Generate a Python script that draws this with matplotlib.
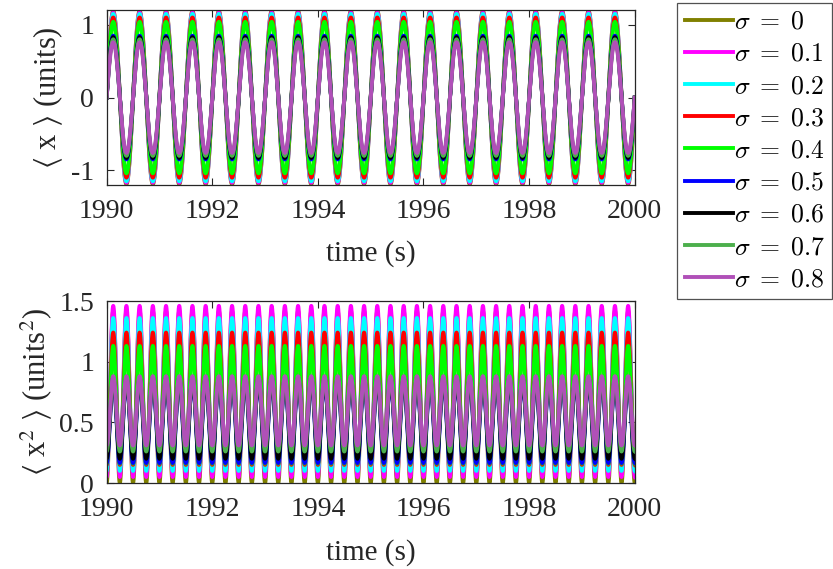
import numpy as np
import matplotlib
matplotlib.use("Agg")
import matplotlib.pyplot as plt
from matplotlib.font_manager import FontProperties

# noise levels and the fitted response of each run
sigmas = [0, 0.1, 0.2, 0.3, 0.4, 0.5, 0.6, 0.7, 0.8]
colors = ['#808000', '#ff00ff', '#00ffff', '#ff0000', '#00ff00',
          '#0000ff', '#000000', '#4caf4c', '#b050b8']
# amplitude of <x>
x_amp = [1.19, 1.17, 1.15, 1.10, 1.04, 0.85, 0.83, 0.80, 0.76]
# min / max of <x^2>
x2_min = [0.0, 0.05, 0.10, 0.15, 0.16, 0.165, 0.20, 0.26, 0.31]
x2_max = [1.42, 1.46, 1.36, 1.24, 1.13, 0.86, 0.87, 0.88, 0.88]
drive_freq = 2.0  # Hz
t_start, t_end = 1990, 2000
xticks = [1990, 1992, 1994, 1996, 1998, 2000]

plt.rcParams['font.family'] = ['Liberation Serif', 'DejaVu Serif']
plt.rcParams['mathtext.fontset'] = 'stix'
plt.rcParams['axes.unicode_minus'] = False
plt.rcParams['font.size'] = 20

t = np.linspace(t_start, t_end, 6001)
phase = np.sin(2 * np.pi * drive_freq * (t - t_start))

fig = plt.figure(figsize=(8.33, 5.69), dpi=100)
ax1 = fig.add_axes([0.128, 0.675, 0.634, 0.307])
ax2 = fig.add_axes([0.128, 0.151, 0.634, 0.320])

lines = []
for s, c, a, lo, hi in zip(sigmas, colors, x_amp, x2_min, x2_max):
    l, = ax1.plot(t, a * phase, color=c, lw=2.8)
    ax2.plot(t, lo + (hi - lo) * phase ** 2, color=c, lw=2.8)
    lines.append(l)

for ax in (ax1, ax2):
    ax.set_xlim(t_start, t_end)
    ax.set_xticks(xticks)
    ax.tick_params(direction='in', top=True, right=True, length=5,
                   width=0.8, colors='#262626', labelcolor='#262626')
    ax.tick_params(axis='x', pad=10)
    ax.tick_params(axis='y', pad=9)
    for sp in ax.spines.values():
        sp.set_color('#262626')
        sp.set_linewidth(0.9)
    ax.set_xlabel('time (s)', color='#262626', fontsize=21, labelpad=12)

ax1.set_ylim(-1.2, 1.2)
ax1.set_yticks([-1, 0, 1])
ax1.set_ylabel(r'$\langle$ x $\rangle$ (units)', color='#262626',
               fontsize=22, labelpad=4)

ax2.set_ylim(0, 1.5)
ax2.set_yticks([0, 0.5, 1, 1.5])
ax2.set_yticklabels(['0', '0.5', '1', '1.5'])
ax2.set_ylabel(r'$\langle$ x$^2$ $\rangle$ (units$^2$)', color='#262626',
               fontsize=22, labelpad=4)

leg_font = FontProperties(size=18.5, math_fontfamily='cm')
leg = fig.legend(lines, [r'$\sigma\;=\;%g$' % s for s in sigmas],
                 loc='upper right', bbox_to_anchor=(0.999, 0.995),
                 prop=leg_font, frameon=True, fancybox=False,
                 handlelength=1.85, handletextpad=0.05, labelspacing=0.36,
                 borderpad=0.3, borderaxespad=0)
leg.get_frame().set_edgecolor('#262626')
leg.get_frame().set_linewidth(0.9)

fig.savefig('out.png', dpi=100)
